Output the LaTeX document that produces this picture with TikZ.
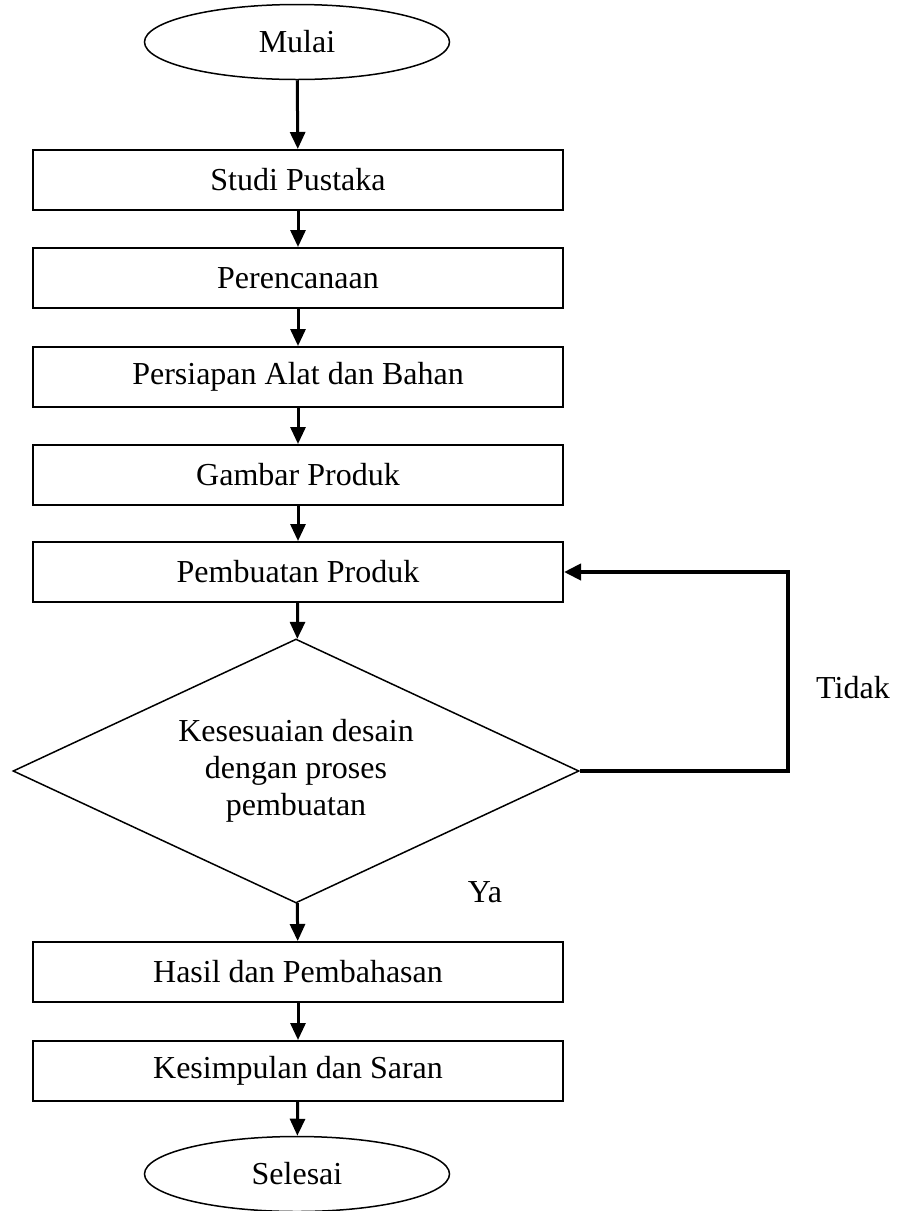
\documentclass[tikz,border=0pt]{standalone}
\usepackage{fontspec}
\setmainfont{Liberation Serif}
\usetikzlibrary{shapes.geometric,arrows.meta}
\begin{document}
\begin{tikzpicture}[x=1pt,y=-1pt,
  every node/.style={font=\fontsize{32}{37}\selectfont},
  terminal/.style={draw,ellipse,line width=1.5pt,minimum width=305pt,minimum height=75pt,inner sep=0pt},
  procbox/.style={draw,rectangle,line width=2pt,minimum width=530pt,minimum height=60pt,inner sep=0pt},
  decision/.style={draw,diamond,line width=1.5pt,aspect=2.14,minimum width=566pt,minimum height=264pt,inner sep=0pt,align=center},
  flow/.style={line width=3pt,-{Triangle[width=15pt,length=17pt]}},
  loopflow/.style={line width=4pt,-{Triangle[width=16pt,length=17pt]}},
  lbl/.style={inner sep=0pt}
]
\useasboundingbox (0,0) rectangle (904,1211);
\node[terminal] (mulai) at (297,42) {Mulai};
\node[procbox] (studi) at (298,180) {Studi Pustaka};
\node[procbox] (renc) at (298,278) {Perencanaan};
\node[procbox] (siap) at (298,377) {Persiapan Alat dan Bahan};
\node[procbox] (gambar) at (298,475) {Gambar Produk};
\node[procbox] (buat) at (298,572) {Pembuatan Produk};
\node[decision] (cek) at (296,771) {Kesesuaian desain\\dengan proses\\pembuatan};
\node[procbox] (hasil) at (298,972) {Hasil dan Pembahasan};
\node[procbox] (simp) at (298,1071) {Kesimpulan dan Saran};
\node[terminal] (selesai) at (297,1174) {Selesai};
\coordinate (loopc) at (788,771);
\node[lbl] (tidak) at (853,688) {Tidak};
\node[lbl] (ya) at (485,892) {Ya};
\draw[flow] (mulai) -- (studi);
\draw[flow] (studi) -- (renc);
\draw[flow] (renc) -- (siap);
\draw[flow] (siap) -- (gambar);
\draw[flow] (gambar) -- (buat);
\draw[flow] (buat) -- (cek);
\draw[flow] (cek) -- (hasil);
\draw[flow] (hasil) -- (simp);
\draw[flow] (simp) -- (selesai);
\draw[loopflow] (cek.east) -- (loopc) |- (buat.east);
\end{tikzpicture}
\end{document}
